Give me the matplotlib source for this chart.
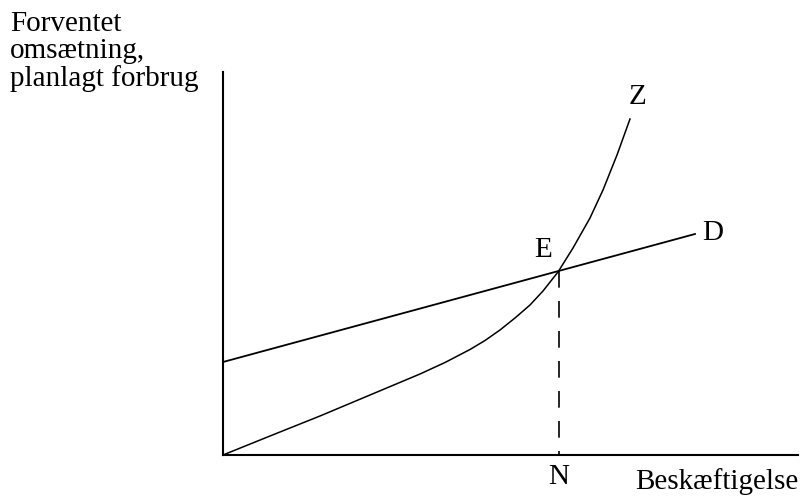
import matplotlib.pyplot as plt

# Data (units: pixels from the axis origin)
d_x = [0, 472]
d_y = [93, 221]

z_x = [0, 47, 97, 147, 197, 222, 247, 262, 277, 292, 307, 320, 335, 350, 367, 380, 394, 407]
z_y = [0, 19, 39, 60, 81, 92.5, 105.5, 114.5, 125, 137, 150, 164, 183, 207, 237, 265, 300, 336]

e_point = (336, 184)

x_max, y_max = 575, 383

W, H = 801, 499
fig = plt.figure(figsize=(W / 100, H / 100), dpi=100)
ax = fig.add_axes([223 / W, (H - 455) / H, x_max / W, y_max / H])
ax.set_xlim(0, x_max)
ax.set_ylim(0, y_max)
for side in ['top', 'right']:
    ax.spines[side].set_visible(False)
for side in ['left', 'bottom']:
    ax.spines[side].set_linewidth(1.5)
ax.set_xticks([])
ax.set_yticks([])

ax.plot(d_x, d_y, color='black', linewidth=1.3, clip_on=False)
ax.plot(z_x, z_y, color='black', linewidth=1.1, clip_on=False)
ax.plot([e_point[0], e_point[0]], [e_point[1], 0], color='black', linewidth=1.2,
        dashes=(10, 8))

font = 'Liberation Serif'
fs = 21
ax.text(e_point[0] - 16, e_point[1] + 21, 'E', fontsize=fs, family=font,
        ha='center', va='center')
ax.text(z_x[-1] + 8, z_y[-1] + 22, 'Z', fontsize=fs, family=font,
        ha='center', va='center')
ax.text(d_x[-1] + 18, d_y[-1] + 1, 'D', fontsize=fs, family=font,
        ha='center', va='center')
ax.text(e_point[0], -22, 'N', fontsize=fs, family=font,
        ha='center', va='center', clip_on=False)
ax.text(x_max, -27, 'Beskæftigelse', fontsize=fs, family=font,
        ha='right', va='center', clip_on=False)
fig.text(10 / W, 1 - 11 / H, 'Forventet\nomsætning,\nplanlagt forbrug', fontsize=fs,
         family=font, ha='left', va='top', linespacing=1.05)

fig.savefig('out.png', dpi=100)
